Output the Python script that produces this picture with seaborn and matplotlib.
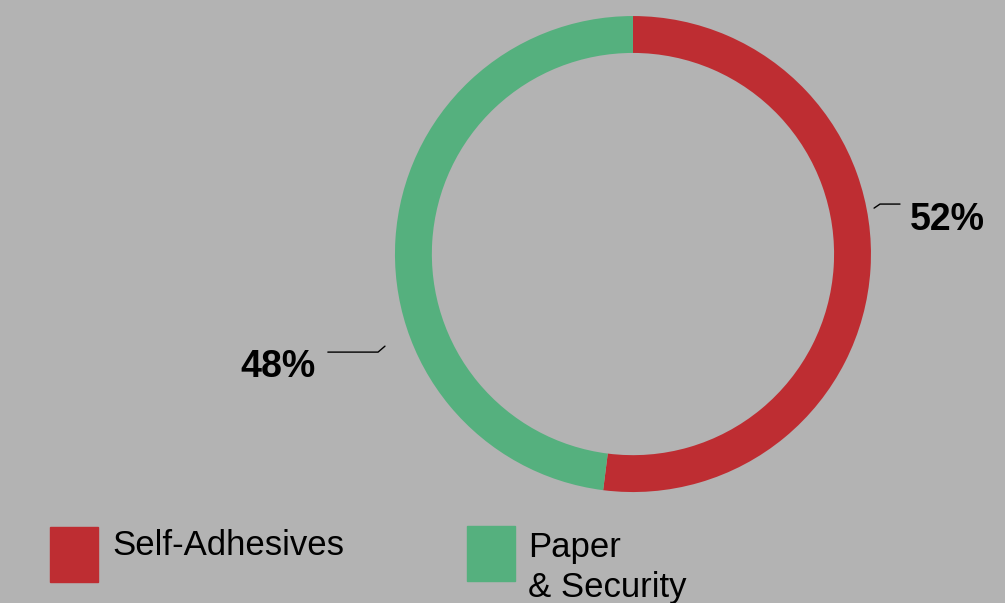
import matplotlib
matplotlib.use("Agg")
import matplotlib.pyplot as plt
import seaborn as sns
import numpy as np

categories = ["Self-Adhesives", "Paper\n& Security"]
values = [52, 48]
labels = ["52%", "48%"]
colors = ["#be2d32", "#55b07e"]
bg = "#b3b3b3"

sns.set_theme(style="white")
plt.rcParams["font.family"] = ["Liberation Sans", "DejaVu Sans"]
plt.rcParams["text.color"] = "black"
palette = sns.color_palette(colors)

fig = plt.figure(figsize=(10.05, 6.03), dpi=100, facecolor=bg)
ax = fig.add_axes([0.393, 0.184, 476 / 1005, 476 / 603])
ax.set_facecolor(bg)
wedges, _ = ax.pie(values, colors=palette, startangle=90, counterclock=False,
                   radius=1.0, wedgeprops=dict(width=0.155, edgecolor="none"))
ax.set_xlim(-1, 1)
ax.set_ylim(-1, 1)
ax.set_aspect("equal")
ax.axis("off")

# leader lines + labels
ax.plot([1.013, 1.038, 1.122], [0.193, 0.210, 0.210],
        color="black", lw=1.0, clip_on=False)
ax.text(1.164, 0.143, labels[0], fontsize=27, fontweight="bold",
        ha="left", va="center", clip_on=False)

ax.plot([-1.042, -1.071, -1.282], [-0.387, -0.412, -0.412],
        color="black", lw=1.0, clip_on=False)
ax.text(-1.332, -0.475, labels[1], fontsize=27, fontweight="bold",
        ha="right", va="center", clip_on=False)

# legend
sq_w, sq_h = 48 / 1005, 55 / 603
fig.patches.append(plt.Rectangle((50 / 1005, 1 - 582 / 603), sq_w, sq_h,
                                 transform=fig.transFigure, color=palette[0]))
fig.patches.append(plt.Rectangle((467 / 1005, 1 - 581 / 603), sq_w, sq_h,
                                 transform=fig.transFigure, color=palette[1]))
fig.text(112 / 1005, 1 - 555 / 603, categories[0], fontsize=25, ha="left",
         va="baseline")
fig.text(528 / 1005, 1 - 557 / 603, "Paper", fontsize=25, ha="left",
         va="baseline")
fig.text(528 / 1005, 1 - 597 / 603, "& Security", fontsize=25, ha="left",
         va="baseline")

fig.savefig("out.png", dpi=100, facecolor=bg)
